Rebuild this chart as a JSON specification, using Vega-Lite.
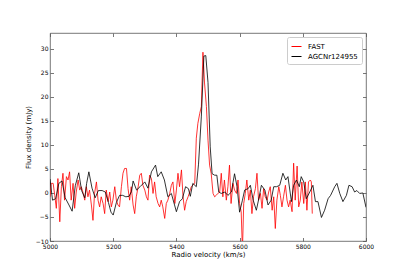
{
  "$schema": "https://vega.github.io/schema/vega-lite/v6.json",
  "width": 316,
  "height": 208,
  "autosize": {"type": "none"},
  "padding": {"left": 50, "top": 33, "right": 41, "bottom": 30},
  "background": "white",
  "config": {
    "view": {"stroke": "#555555", "strokeWidth": 0.8},
    "font": "DejaVu Sans",
    "axis": {
      "labelFont": "DejaVu Sans",
      "titleFont": "DejaVu Sans",
      "labelFontSize": 6,
      "titleFontSize": 7,
      "labelColor": "#000000",
      "titleColor": "#000000",
      "titleFontWeight": "normal",
      "grid": false,
      "domain": false,
      "tickColor": "#555555",
      "tickSize": -3.5,
      "tickWidth": 0.8,
      "labelOverlap": false,
      "labelFlush": false,
      "labelBound": false,
      "format": "d"
    },
    "legend": {
      "labelFont": "DejaVu Sans",
      "labelFontSize": 7,
      "labelColor": "#000000"
    }
  },
  "datasets": {
    "spec": [
      {"v": 5000, "f": -0.8, "s": "FAST"}, {"v": 5004, "f": 2.0, "s": "FAST"}, {"v": 5010, "f": 2.0, "s": "FAST"}, {"v": 5015, "f": -0.5, "s": "FAST"}, {"v": 5020, "f": -3.2, "s": "FAST"}, {"v": 5025, "f": 3.0, "s": "FAST"}, {"v": 5031, "f": -6.0, "s": "FAST"}, {"v": 5036, "f": 1.3, "s": "FAST"}, {"v": 5041, "f": 4.1, "s": "FAST"}, {"v": 5046, "f": -1.5, "s": "FAST"}, {"v": 5052, "f": 3.4, "s": "FAST"}, {"v": 5057, "f": 2.7, "s": "FAST"}, {"v": 5062, "f": 4.4, "s": "FAST"}, {"v": 5067, "f": -1.5, "s": "FAST"}, {"v": 5073, "f": 2.0, "s": "FAST"}, {"v": 5078, "f": -3.2, "s": "FAST"}, {"v": 5083, "f": 0.2, "s": "FAST"}, {"v": 5089, "f": 2.7, "s": "FAST"}, {"v": 5094, "f": 0.6, "s": "FAST"}, {"v": 5099, "f": 1.3, "s": "FAST"}, {"v": 5104, "f": 0.2, "s": "FAST"}, {"v": 5110, "f": -1.5, "s": "FAST"}, {"v": 5115, "f": 1.3, "s": "FAST"}, {"v": 5120, "f": -0.8, "s": "FAST"}, {"v": 5125, "f": 0.6, "s": "FAST"}, {"v": 5131, "f": -2.5, "s": "FAST"}, {"v": 5136, "f": -5.7, "s": "FAST"}, {"v": 5141, "f": -0.1, "s": "FAST"}, {"v": 5147, "f": 2.3, "s": "FAST"}, {"v": 5152, "f": -1.5, "s": "FAST"}, {"v": 5157, "f": -2.9, "s": "FAST"}, {"v": 5162, "f": -0.8, "s": "FAST"}, {"v": 5168, "f": -2.2, "s": "FAST"}, {"v": 5173, "f": -4.3, "s": "FAST"}, {"v": 5178, "f": 0.6, "s": "FAST"}, {"v": 5184, "f": -1.8, "s": "FAST"}, {"v": 5189, "f": 0.2, "s": "FAST"}, {"v": 5194, "f": -2.9, "s": "FAST"}, {"v": 5199, "f": -1.5, "s": "FAST"}, {"v": 5205, "f": 1.3, "s": "FAST"}, {"v": 5210, "f": -1.5, "s": "FAST"}, {"v": 5215, "f": -2.5, "s": "FAST"}, {"v": 5220, "f": -2.9, "s": "FAST"}, {"v": 5226, "f": 1.3, "s": "FAST"}, {"v": 5231, "f": 4.1, "s": "FAST"}, {"v": 5236, "f": 5.1, "s": "FAST"}, {"v": 5242, "f": 5.1, "s": "FAST"}, {"v": 5247, "f": 0.9, "s": "FAST"}, {"v": 5252, "f": -1.5, "s": "FAST"}, {"v": 5257, "f": 1.3, "s": "FAST"}, {"v": 5263, "f": -2.5, "s": "FAST"}, {"v": 5268, "f": -4.3, "s": "FAST"}, {"v": 5273, "f": -0.8, "s": "FAST"}, {"v": 5279, "f": 1.3, "s": "FAST"}, {"v": 5284, "f": 3.7, "s": "FAST"}, {"v": 5289, "f": 4.1, "s": "FAST"}, {"v": 5294, "f": 1.6, "s": "FAST"}, {"v": 5300, "f": 0.6, "s": "FAST"}, {"v": 5305, "f": -0.8, "s": "FAST"}, {"v": 5310, "f": -1.5, "s": "FAST"}, {"v": 5315, "f": 3.7, "s": "FAST"}, {"v": 5321, "f": 3.0, "s": "FAST"}, {"v": 5326, "f": -0.1, "s": "FAST"}, {"v": 5331, "f": 2.3, "s": "FAST"}, {"v": 5336, "f": -0.8, "s": "FAST"}, {"v": 5342, "f": -2.2, "s": "FAST"}, {"v": 5347, "f": -2.9, "s": "FAST"}, {"v": 5352, "f": -1.5, "s": "FAST"}, {"v": 5357, "f": -2.9, "s": "FAST"}, {"v": 5363, "f": -5.3, "s": "FAST"}, {"v": 5368, "f": -2.2, "s": "FAST"}, {"v": 5373, "f": -1.5, "s": "FAST"}, {"v": 5379, "f": -0.1, "s": "FAST"}, {"v": 5384, "f": 1.6, "s": "FAST"}, {"v": 5389, "f": 2.3, "s": "FAST"}, {"v": 5395, "f": -2.2, "s": "FAST"}, {"v": 5400, "f": 0.6, "s": "FAST"}, {"v": 5405, "f": 4.1, "s": "FAST"}, {"v": 5410, "f": 1.3, "s": "FAST"}, {"v": 5416, "f": 4.8, "s": "FAST"}, {"v": 5421, "f": -0.8, "s": "FAST"}, {"v": 5426, "f": -3.6, "s": "FAST"}, {"v": 5431, "f": -1.8, "s": "FAST"}, {"v": 5437, "f": -0.8, "s": "FAST"}, {"v": 5442, "f": 0.2, "s": "FAST"}, {"v": 5447, "f": 1.3, "s": "FAST"}, {"v": 5452, "f": 1.6, "s": "FAST"}, {"v": 5458, "f": 2.0, "s": "FAST"}, {"v": 5463, "f": 11.4, "s": "FAST"}, {"v": 5468, "f": 14.5, "s": "FAST"}, {"v": 5474, "f": 16.6, "s": "FAST"}, {"v": 5479, "f": 18.0, "s": "FAST"}, {"v": 5484, "f": 29.3, "s": "FAST"}, {"v": 5489, "f": 22.9, "s": "FAST"}, {"v": 5495, "f": 18.0, "s": "FAST"}, {"v": 5500, "f": 11.0, "s": "FAST"}, {"v": 5505, "f": 5.8, "s": "FAST"}, {"v": 5510, "f": 4.1, "s": "FAST"}, {"v": 5516, "f": -0.1, "s": "FAST"}, {"v": 5521, "f": -0.8, "s": "FAST"}, {"v": 5526, "f": -0.5, "s": "FAST"}, {"v": 5531, "f": -0.1, "s": "FAST"}, {"v": 5537, "f": 0.2, "s": "FAST"}, {"v": 5542, "f": 4.1, "s": "FAST"}, {"v": 5547, "f": -0.8, "s": "FAST"}, {"v": 5552, "f": 2.7, "s": "FAST"}, {"v": 5558, "f": -1.5, "s": "FAST"}, {"v": 5563, "f": 1.3, "s": "FAST"}, {"v": 5568, "f": 5.8, "s": "FAST"}, {"v": 5573, "f": -2.2, "s": "FAST"}, {"v": 5579, "f": 2.0, "s": "FAST"}, {"v": 5584, "f": 0.6, "s": "FAST"}, {"v": 5590, "f": -0.1, "s": "FAST"}, {"v": 5595, "f": 2.7, "s": "FAST"}, {"v": 5600, "f": -2.2, "s": "FAST"}, {"v": 5605, "f": -3.9, "s": "FAST"}, {"v": 5609, "f": -12.0, "s": "FAST"}, {"v": 5613, "f": -2.2, "s": "FAST"}, {"v": 5618, "f": -0.1, "s": "FAST"}, {"v": 5623, "f": 2.7, "s": "FAST"}, {"v": 5629, "f": -1.5, "s": "FAST"}, {"v": 5634, "f": 0.6, "s": "FAST"}, {"v": 5639, "f": -4.3, "s": "FAST"}, {"v": 5644, "f": -0.8, "s": "FAST"}, {"v": 5650, "f": 0.9, "s": "FAST"}, {"v": 5655, "f": 4.1, "s": "FAST"}, {"v": 5660, "f": -1.5, "s": "FAST"}, {"v": 5666, "f": -0.1, "s": "FAST"}, {"v": 5671, "f": -3.2, "s": "FAST"}, {"v": 5676, "f": 0.9, "s": "FAST"}, {"v": 5681, "f": -0.8, "s": "FAST"}, {"v": 5687, "f": -1.5, "s": "FAST"}, {"v": 5692, "f": 0.2, "s": "FAST"}, {"v": 5697, "f": 1.3, "s": "FAST"}, {"v": 5703, "f": -3.6, "s": "FAST"}, {"v": 5708, "f": -0.8, "s": "FAST"}, {"v": 5713, "f": -7.4, "s": "FAST"}, {"v": 5718, "f": -1.5, "s": "FAST"}, {"v": 5724, "f": 1.3, "s": "FAST"}, {"v": 5729, "f": -0.5, "s": "FAST"}, {"v": 5734, "f": -2.9, "s": "FAST"}, {"v": 5739, "f": -0.8, "s": "FAST"}, {"v": 5745, "f": 1.6, "s": "FAST"}, {"v": 5750, "f": -1.5, "s": "FAST"}, {"v": 5755, "f": -2.9, "s": "FAST"}, {"v": 5760, "f": -1.5, "s": "FAST"}, {"v": 5766, "f": -3.9, "s": "FAST"}, {"v": 5771, "f": 6.2, "s": "FAST"}, {"v": 5776, "f": -1.5, "s": "FAST"}, {"v": 5782, "f": 5.6, "s": "FAST"}, {"v": 5787, "f": -2.9, "s": "FAST"}, {"v": 5792, "f": -1.5, "s": "FAST"}, {"v": 5797, "f": 2.3, "s": "FAST"}, {"v": 5803, "f": -2.2, "s": "FAST"}, {"v": 5808, "f": 2.3, "s": "FAST"}, {"v": 5813, "f": -3.6, "s": "FAST"}, {"v": 5818, "f": 2.3, "s": "FAST"}, {"v": 5824, "f": 2.7, "s": "FAST"}, {"v": 5827, "f": 2.3, "s": "FAST"}, {"v": 5830, "f": -4.3, "s": "FAST"},
      {"v": 5000, "f": 2.9, "s": "AGCNr124955"}, {"v": 5008, "f": -1.5, "s": "AGCNr124955"}, {"v": 5018, "f": -1.2, "s": "AGCNr124955"}, {"v": 5028, "f": 2.0, "s": "AGCNr124955"}, {"v": 5038, "f": 2.5, "s": "AGCNr124955"}, {"v": 5048, "f": -1.0, "s": "AGCNr124955"}, {"v": 5060, "f": -2.5, "s": "AGCNr124955"}, {"v": 5070, "f": -3.8, "s": "AGCNr124955"}, {"v": 5080, "f": 1.5, "s": "AGCNr124955"}, {"v": 5091, "f": 4.2, "s": "AGCNr124955"}, {"v": 5100, "f": 0.5, "s": "AGCNr124955"}, {"v": 5110, "f": -1.0, "s": "AGCNr124955"}, {"v": 5116, "f": 2.0, "s": "AGCNr124955"}, {"v": 5123, "f": 4.4, "s": "AGCNr124955"}, {"v": 5133, "f": 1.0, "s": "AGCNr124955"}, {"v": 5143, "f": -1.0, "s": "AGCNr124955"}, {"v": 5153, "f": 0.5, "s": "AGCNr124955"}, {"v": 5165, "f": 0.5, "s": "AGCNr124955"}, {"v": 5175, "f": 0.2, "s": "AGCNr124955"}, {"v": 5185, "f": -2.0, "s": "AGCNr124955"}, {"v": 5193, "f": -4.0, "s": "AGCNr124955"}, {"v": 5200, "f": -4.6, "s": "AGCNr124955"}, {"v": 5210, "f": -2.0, "s": "AGCNr124955"}, {"v": 5220, "f": -0.5, "s": "AGCNr124955"}, {"v": 5230, "f": -0.5, "s": "AGCNr124955"}, {"v": 5240, "f": -0.8, "s": "AGCNr124955"}, {"v": 5250, "f": -0.7, "s": "AGCNr124955"}, {"v": 5258, "f": 0.3, "s": "AGCNr124955"}, {"v": 5263, "f": 2.5, "s": "AGCNr124955"}, {"v": 5274, "f": 0.6, "s": "AGCNr124955"}, {"v": 5285, "f": 1.3, "s": "AGCNr124955"}, {"v": 5300, "f": 2.3, "s": "AGCNr124955"}, {"v": 5310, "f": 1.0, "s": "AGCNr124955"}, {"v": 5321, "f": 4.4, "s": "AGCNr124955"}, {"v": 5334, "f": 5.8, "s": "AGCNr124955"}, {"v": 5341, "f": 3.4, "s": "AGCNr124955"}, {"v": 5352, "f": 4.4, "s": "AGCNr124955"}, {"v": 5362, "f": 2.7, "s": "AGCNr124955"}, {"v": 5373, "f": -0.8, "s": "AGCNr124955"}, {"v": 5384, "f": -0.1, "s": "AGCNr124955"}, {"v": 5400, "f": -3.9, "s": "AGCNr124955"}, {"v": 5410, "f": -1.8, "s": "AGCNr124955"}, {"v": 5419, "f": -1.2, "s": "AGCNr124955"}, {"v": 5429, "f": 1.3, "s": "AGCNr124955"}, {"v": 5438, "f": 0.9, "s": "AGCNr124955"}, {"v": 5444, "f": -0.7, "s": "AGCNr124955"}, {"v": 5452, "f": 2.0, "s": "AGCNr124955"}, {"v": 5463, "f": 1.3, "s": "AGCNr124955"}, {"v": 5470, "f": 6.0, "s": "AGCNr124955"}, {"v": 5479, "f": 16.0, "s": "AGCNr124955"}, {"v": 5487, "f": 28.5, "s": "AGCNr124955"}, {"v": 5493, "f": 28.6, "s": "AGCNr124955"}, {"v": 5500, "f": 23.0, "s": "AGCNr124955"}, {"v": 5507, "f": 9.6, "s": "AGCNr124955"}, {"v": 5513, "f": 4.0, "s": "AGCNr124955"}, {"v": 5521, "f": 3.7, "s": "AGCNr124955"}, {"v": 5528, "f": 3.7, "s": "AGCNr124955"}, {"v": 5534, "f": 0.2, "s": "AGCNr124955"}, {"v": 5542, "f": -0.1, "s": "AGCNr124955"}, {"v": 5553, "f": 0.2, "s": "AGCNr124955"}, {"v": 5563, "f": -0.5, "s": "AGCNr124955"}, {"v": 5574, "f": 0.2, "s": "AGCNr124955"}, {"v": 5584, "f": 4.0, "s": "AGCNr124955"}, {"v": 5592, "f": 1.3, "s": "AGCNr124955"}, {"v": 5600, "f": -4.0, "s": "AGCNr124955"}, {"v": 5609, "f": -1.5, "s": "AGCNr124955"}, {"v": 5616, "f": 0.6, "s": "AGCNr124955"}, {"v": 5627, "f": 0.9, "s": "AGCNr124955"}, {"v": 5634, "f": 1.6, "s": "AGCNr124955"}, {"v": 5643, "f": -1.5, "s": "AGCNr124955"}, {"v": 5653, "f": -3.6, "s": "AGCNr124955"}, {"v": 5662, "f": -0.8, "s": "AGCNr124955"}, {"v": 5669, "f": 1.6, "s": "AGCNr124955"}, {"v": 5680, "f": 0.6, "s": "AGCNr124955"}, {"v": 5690, "f": -2.5, "s": "AGCNr124955"}, {"v": 5700, "f": -1.5, "s": "AGCNr124955"}, {"v": 5708, "f": 1.3, "s": "AGCNr124955"}, {"v": 5717, "f": 1.3, "s": "AGCNr124955"}, {"v": 5727, "f": 1.6, "s": "AGCNr124955"}, {"v": 5737, "f": 4.1, "s": "AGCNr124955"}, {"v": 5746, "f": 2.7, "s": "AGCNr124955"}, {"v": 5753, "f": 3.4, "s": "AGCNr124955"}, {"v": 5764, "f": -1.8, "s": "AGCNr124955"}, {"v": 5771, "f": 1.6, "s": "AGCNr124955"}, {"v": 5780, "f": 2.7, "s": "AGCNr124955"}, {"v": 5789, "f": 1.3, "s": "AGCNr124955"}, {"v": 5795, "f": 3.4, "s": "AGCNr124955"}, {"v": 5803, "f": 2.3, "s": "AGCNr124955"}, {"v": 5811, "f": -1.2, "s": "AGCNr124955"}, {"v": 5822, "f": 0.2, "s": "AGCNr124955"}, {"v": 5832, "f": 1.6, "s": "AGCNr124955"}, {"v": 5840, "f": -1.8, "s": "AGCNr124955"}, {"v": 5848, "f": -1.8, "s": "AGCNr124955"}, {"v": 5859, "f": -5.1, "s": "AGCNr124955"}, {"v": 5869, "f": -3.6, "s": "AGCNr124955"}, {"v": 5880, "f": -1.2, "s": "AGCNr124955"}, {"v": 5888, "f": -0.5, "s": "AGCNr124955"}, {"v": 5901, "f": 1.3, "s": "AGCNr124955"}, {"v": 5908, "f": 2.0, "s": "AGCNr124955"}, {"v": 5917, "f": -0.1, "s": "AGCNr124955"}, {"v": 5927, "f": -1.8, "s": "AGCNr124955"}, {"v": 5938, "f": -0.5, "s": "AGCNr124955"}, {"v": 5946, "f": 1.6, "s": "AGCNr124955"}, {"v": 5956, "f": 1.3, "s": "AGCNr124955"}, {"v": 5964, "f": 0.2, "s": "AGCNr124955"}, {"v": 5971, "f": 0.5, "s": "AGCNr124955"}, {"v": 5980, "f": -0.1, "s": "AGCNr124955"}, {"v": 5990, "f": 0.0, "s": "AGCNr124955"}, {"v": 6000, "f": -3.0, "s": "AGCNr124955"}
    ]
  },
  "data": {"name": "spec"},
  "layer": [
    {
      "mark": {"type": "line", "clip": true, "strokeWidth": 0.8, "interpolate": "linear"},
      "encoding": {
        "x": {"field": "v", "type": "quantitative", "scale": {"domain": [5000, 6000], "nice": false, "zero": false},
              "axis": {"title": "Radio velocity (km/s)", "values": [5000, 5200, 5400, 5600, 5800, 6000], "labelPadding": 5.5, "titlePadding": 1}},
        "y": {"field": "f", "type": "quantitative", "scale": {"domain": [-10, 33.3], "nice": false, "zero": false},
              "axis": {"title": "Flux density (mJy)", "values": [-10, -5, 0, 5, 10, 15, 20, 25, 30], "labelPadding": 5.5, "titlePadding": 4}},
        "color": {"field": "s", "type": "nominal",
                  "scale": {"domain": ["FAST", "AGCNr124955"], "range": ["#ff0000", "#000000"]},
                  "legend": {"title": null, "orient": "top-right", "offset": 4,
                             "padding": 4, "rowPadding": 1, "labelOffset": 6, "strokeColor": "#cccccc", "fillColor": "white", "cornerRadius": 2,
                             "encode": {"symbols": {"update": {"stroke": [{"test": "datum.value === 'FAST'", "value": "#ff0000"}, {"value": "#000000"}], "strokeWidth": {"value": 1}}}}}},
        "order": {"field": "v", "type": "quantitative"}
      }
    },
    {
      "mark": {"type": "point", "opacity": 0, "size": 1},
      "encoding": {
        "x": {"field": "v", "type": "quantitative",
              "axis": {"orient": "top", "labels": false, "title": null, "values": [5000, 5200, 5400, 5600, 5800, 6000]}},
        "y": {"field": "f", "type": "quantitative",
              "axis": {"orient": "right", "labels": false, "title": null, "values": [-10, -5, 0, 5, 10, 15, 20, 25, 30]}}
      }
    }
  ],
  "resolve": {"axis": {"x": "independent", "y": "independent"}}
}
